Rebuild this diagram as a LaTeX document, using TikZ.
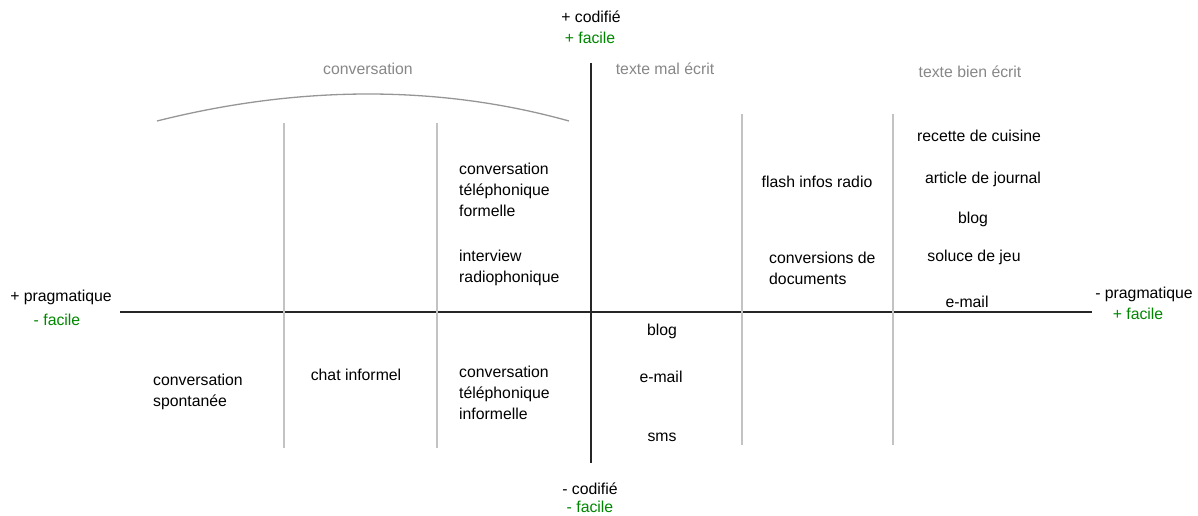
\documentclass[tikz,border=0pt]{standalone}
\usepackage{fontspec}
\setmainfont{Liberation Sans}
\definecolor{fgreen}{RGB}{0,135,0}
\definecolor{ltxt}{RGB}{135,135,135}
\definecolor{lline}{RGB}{195,195,195}
\definecolor{carc}{RGB}{150,150,150}
\begin{document}
\begin{tikzpicture}[x=1pt,y=-1pt,
  every node/.style={inner sep=0pt,font=\fontsize{15.8}{21}\selectfont},
  lbl/.style={text=black},
  grn/.style={text=fgreen},
  cat/.style={text=ltxt},
  multi/.style={text=black,align=left,anchor=base west},
  axis/.style={draw=black!85,line width=1.6pt},
  sep/.style={draw=lline,line width=1.3pt},
  arc/.style={draw=carc,line width=1.3pt}]
\useasboundingbox (0,0) rectangle (1198,515);
% axes
\coordinate (hl) at (120,312);
\coordinate (hr) at (1092,312);
\coordinate (vt) at (591,63);
\coordinate (vb) at (591,463);
\draw[axis] (hl) -- (hr);
\draw[axis] (vt) -- (vb);
% separators
\coordinate (s1t) at (284,123); \coordinate (s1b) at (284,448);
\coordinate (s2t) at (437,123); \coordinate (s2b) at (437,448);
\coordinate (s3t) at (742,114); \coordinate (s3b) at (742,445);
\coordinate (s4t) at (893,114); \coordinate (s4b) at (893,445);
\draw[sep] (s1t) -- (s1b);
\draw[sep] (s2t) -- (s2b);
\draw[sep] (s3t) -- (s3b);
\draw[sep] (s4t) -- (s4b);
% arc
\coordinate (a1) at (157,121);
\coordinate (a2) at (569,121);
\draw[arc] (a1) .. controls (300,85) and (440,85) .. (a2);
% axis labels
\node[lbl] (cp) at (591,17) {+ codifié};
\node[grn] (fp) at (590,38) {+ facile};
\node[lbl] (cm) at (590,489) {- codifié};
\node[grn] (fm) at (590,507) {- facile};
\node[lbl] (pp) at (61,297) {+ pragmatique};
\node[grn] (fl) at (57,320) {- facile};
\node[lbl] (pm) at (1144,294) {- pragmatique};
\node[grn] (fr) at (1138,314) {+ facile};
% categories
\node[cat] (c1) at (368,69) {conversation};
\node[cat] (c2) at (665,69) {texte mal écrit};
\node[cat] (c3) at (970,72) {texte bien écrit};
% upper items
\node[multi] (t1) at (459,216) {conversation\\téléphonique\\formelle};
\node[multi] (t2) at (459,282) {interview\\radiophonique};
\node[lbl] (t3) at (817,182) {flash infos radio};
\node[multi] (t4) at (769,284) {conversions de\\documents};
\node[lbl] (t5) at (979,136) {recette de cuisine};
\node[lbl] (t6) at (983,179) {article de journal};
\node[lbl] (t7) at (973,219) {blog};
\node[lbl] (t8) at (974,257) {soluce de jeu};
\node[lbl] (t9) at (967,302) {e-mail};
% lower items
\node[multi] (b1) at (153,406) {conversation\\spontanée};
\node[lbl] (b2) at (356,375) {chat informel};
\node[multi] (b3) at (459,419) {conversation\\téléphonique\\informelle};
\node[lbl] (b4) at (662,331) {blog};
\node[lbl] (b5) at (661,377) {e-mail};
\node[lbl] (b6) at (662,437) {sms};
\end{tikzpicture}
\end{document}
